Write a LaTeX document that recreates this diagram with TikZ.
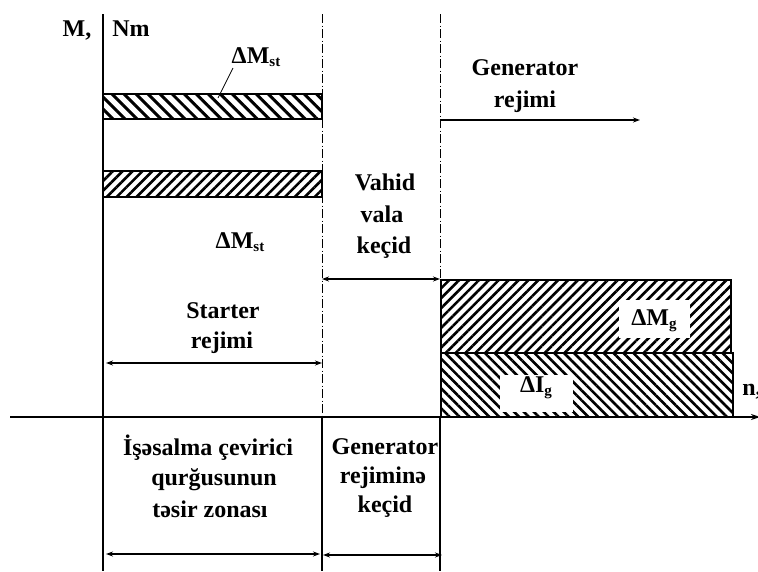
\documentclass[tikz,border=0pt]{standalone}
\usepackage{fontspec}
\setmainfont{Liberation Serif}
\usetikzlibrary{patterns.meta,arrows.meta}
\newcommand\mysub[1]{\raisebox{-0.3ex}{\fontsize{15}{15}\selectfont #1}}
\begin{document}
\begin{tikzpicture}[x=1pt,y=-1pt,
  lbl/.style={font=\bfseries\fontsize{24}{30}\selectfont, inner sep=0pt, anchor=base},
  ax/.style={line width=1.3pt},
  dd/.style={line width=0.8pt, dash pattern=on 9pt off 2.5pt on 1pt off 2.5pt},
  tip/.tip={Stealth[length=7pt,width=5pt]},
  dim/.style={line width=1.2pt, tip-tip},
  onearrow/.style={line width=1.2pt, -tip},
  hne/.style={pattern={Lines[angle=45,distance=7pt,line width=2.6pt]}},
  hnw/.style={pattern={Lines[angle=-45,distance=7pt,line width=2.6pt]}},
  hnwwide/.style={pattern={Lines[angle=-45,distance=8.5pt,line width=3pt]}},
  bar/.style={draw, line width=1.1pt},
  wbox/.style={fill=white, inner sep=0pt}]
\useasboundingbox (0,0) rectangle (758,571);
% coordinates
\coordinate (ytop) at (103,14);
\coordinate (ybot) at (103,571);
\coordinate (xl) at (10,417);
\coordinate (xr) at (760,417);
\coordinate (d1t) at (322,14);
\coordinate (d1b) at (322,417);
\coordinate (d2t) at (440,14);
\coordinate (d2b) at (440,417);
\coordinate (s1b) at (322,571);
\coordinate (s2b) at (440,571);
% hatched bars
\draw[bar,hnwwide] (103,94) rectangle (322,119);
\draw[bar,hne] (103,171) rectangle (322,197);
\draw[bar,hne] (441,280) rectangle (731,353);
\draw[bar,hnw] (441,353) rectangle (733,417);
% axes
\draw[ax] (ytop) -- (ybot);
\draw[ax,-{Stealth[length=9pt,width=6pt]}] (xl) -- (xr);
% dash-dot boundaries
\draw[dd] (d1t) -- (d1b);
\draw[dd] (d2t) -- (d2b);
\draw[ax] (d1b) -- (s1b);
\draw[ax] (d2b) -- (s2b);
% axis labels
\node[lbl] (mlab) at (77,36) {M,};
\node[lbl] (nmlab) at (131,36) {Nm};
\node[lbl] (nlab) at (752,395) {n,};
% delta M st labels
\node[lbl] (dmst1) at (256,63) {ΔM\mysub{st}};
\coordinate (ld1) at (233,68);
\coordinate (ld2) at (218,98);
\draw[line width=0.8pt] (ld1) -- (ld2);
\node[lbl] (dmst2) at (240,248) {ΔM\mysub{st}};
% generator rejimi
\node[lbl] (gr1) at (525,75) {Generator};
\node[lbl] (gr2) at (525,107) {rejimi};
\coordinate (ga1) at (441,120);
\coordinate (ga2) at (640,120);
\draw[onearrow] (ga1) -- (ga2);
% vahid vala kecid
\node[lbl] (vv1) at (385,190) {Vahid};
\node[lbl] (vv2) at (382,222) {vala};
\node[lbl] (vv3) at (384,253) {keçid};
\coordinate (va1) at (322,279);
\coordinate (va2) at (440,279);
\draw[dim] (va1) -- (va2);
% starter rejimi
\node[lbl] (st1) at (223,318) {Starter};
\node[lbl] (st2) at (222,348) {rejimi};
\coordinate (sa1) at (106,363);
\coordinate (sa2) at (322,363);
\draw[dim] (sa1) -- (sa2);
% labels in generator bars
\node[wbox, minimum width=71pt, minimum height=38pt] (mgbox) at (654,319) {};
\node[lbl] (mg) at (654,325) {ΔM\mysub{g}};
\node[wbox, minimum width=73pt, minimum height=37pt] (igbox) at (536,393) {};
\node[lbl] (ig) at (536,392) {ΔI\mysub{g}};
% bottom texts
\node[lbl] (is1) at (208,455) {İşəsalma çevirici};
\node[lbl] (is2) at (214,485) {qurğusunun};
\node[lbl] (is3) at (210,517) {təsir zonası};
\node[lbl] (gk1) at (385,454) {Generator};
\node[lbl] (gk2) at (383,483) {rejiminə};
\node[lbl] (gk3) at (385,512) {keçid};
\coordinate (ba1) at (106,554);
\coordinate (ba2) at (320,554);
\coordinate (bb1) at (323,555);
\coordinate (bb2) at (442,555);
\draw[dim] (ba1) -- (ba2);
\draw[dim] (bb1) -- (bb2);
\end{tikzpicture}
\end{document}
